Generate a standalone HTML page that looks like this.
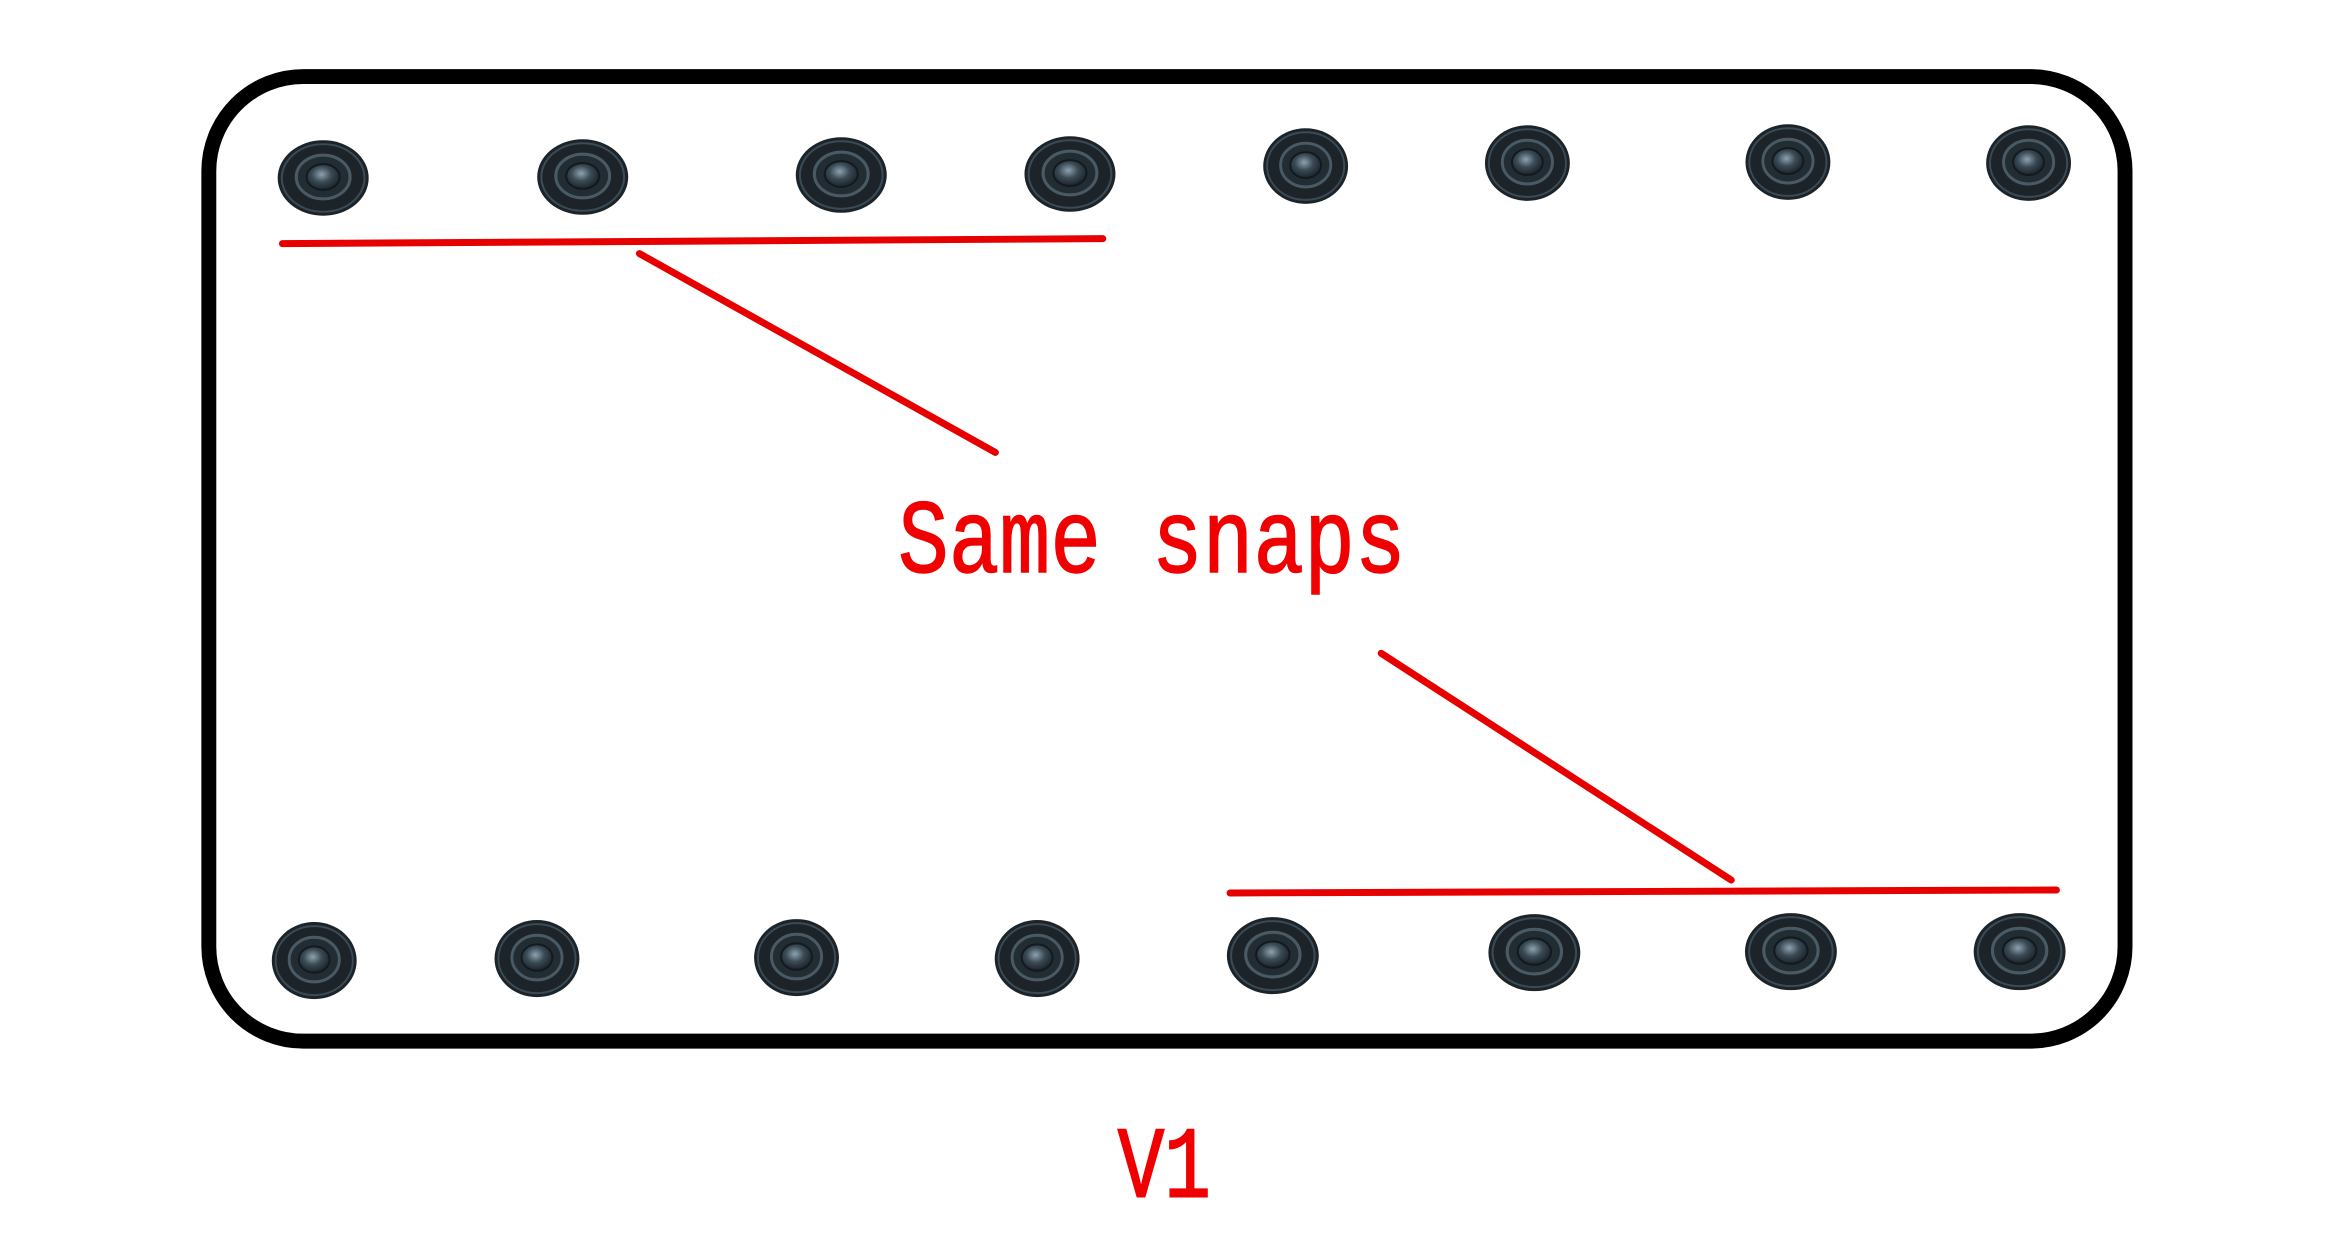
<!DOCTYPE html>
<html><head><meta charset="utf-8"><style>html,body{margin:0;padding:0;background:#fff;}svg{display:block}</style></head>
<body>
<svg width="2328" height="1248" viewBox="0 0 2328 1248" xmlns="http://www.w3.org/2000/svg">
<defs>
<radialGradient id="g" cx="0.45" cy="0.4" r="0.6">
<stop offset="0" stop-color="#8ea2ad"/><stop offset="0.5" stop-color="#3a4a55"/><stop offset="1" stop-color="#1b2329"/>
</radialGradient>
<g id="s">
<ellipse cx="0" cy="0" rx="44" ry="38" fill="#1c2429"/>
<ellipse cx="0" cy="0" rx="40" ry="34" fill="none" stroke="#3b4a54" stroke-width="2"/>
<ellipse cx="0" cy="-1" rx="26" ry="22" fill="#222c33" stroke="#4a5a65" stroke-width="3"/>
<ellipse cx="0" cy="-1" rx="16" ry="13" fill="url(#g)" stroke="#121a1f" stroke-width="2"/>
</g>
</defs>
<g transform="scale(0.9944)">
<rect x="210" y="77" width="1927" height="970" rx="95" ry="95" fill="none" stroke="#000" stroke-width="15"/>
<use href="#s" transform="translate(325,179) scale(1.04,1)"/>
<use href="#s" transform="translate(586,178) scale(1.04,1)"/>
<use href="#s" transform="translate(846,176) scale(1.04,1)"/>
<use href="#s" transform="translate(1076,175) scale(1.04,1)"/>
<use href="#s" transform="translate(1313,167) scale(0.97,1)"/>
<use href="#s" transform="translate(1536,164) scale(0.97,1)"/>
<use href="#s" transform="translate(1798,163) scale(0.97,1)"/>
<use href="#s" transform="translate(2040,164) scale(0.97,1)"/>
<use href="#s" transform="translate(316,966) scale(0.97,1.02)"/>
<use href="#s" transform="translate(540,964) scale(0.97,1.02)"/>
<use href="#s" transform="translate(801,963) scale(0.97,1.02)"/>
<use href="#s" transform="translate(1043,964) scale(0.97,1.02)"/>
<use href="#s" transform="translate(1280,961) scale(1.05,1.02)"/>
<use href="#s" transform="translate(1543,958) scale(1.05,1.02)"/>
<use href="#s" transform="translate(1801,957) scale(1.05,1.02)"/>
<use href="#s" transform="translate(2031,957) scale(1.05,1.02)"/>
<g stroke="#e60000" stroke-width="7" stroke-linecap="round" fill="none">
<line x1="284" y1="245" x2="1109" y2="240"/>
<line x1="643" y1="255" x2="1001" y2="455"/>
<line x1="1389" y1="657" x2="1741" y2="885"/>
<line x1="1237" y1="898" x2="2068" y2="895"/>
</g>
<text transform="translate(903,575) scale(1.15,1.43)" x="0" y="0" font-family="Liberation Mono, monospace" font-size="74" fill="#f00000" stroke="#f00000" stroke-width="1">Same snaps</text>
<text transform="translate(1124,1203) scale(1,1.3)" x="0" y="0" font-family="Liberation Mono, monospace" font-size="78" fill="#f00000" stroke="#f00000" stroke-width="1.5">V1</text>
</g>
</svg>
</body></html>
